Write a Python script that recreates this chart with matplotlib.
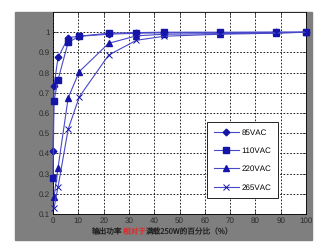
import matplotlib
matplotlib.use("Agg")
import matplotlib.pyplot as plt
from matplotlib.patches import Rectangle

plt.rcParams['font.family'] = ['Liberation Sans', 'DejaVu Sans']
plt.rcParams['text.hinting'] = 'none'
plt.rcParams['text.hinting_factor'] = 1

# load in % of full load (250W)
x85 = [0, 0.4, 2, 6, 10.4, 22, 33, 44, 66, 88, 100]
y85 = [0.41, 0.735, 0.875, 0.973, 0.98, 0.99, 0.995, 0.997, 0.998, 1.0, 1.0]
x110 = [0, 0.4, 2, 6, 10.4, 22, 33, 44, 66, 88, 100]
y110 = [0.28, 0.66, 0.765, 0.95, 0.98, 0.995, 0.998, 1.0, 1.0, 1.0, 1.0]
x220 = [0.4, 2, 6, 10.4, 22, 33, 44, 66, 88, 100]
y220 = [0.185, 0.33, 0.675, 0.805, 0.945, 0.982, 0.99, 0.993, 0.997, 1.0]
x265 = [0.4, 2, 6, 10.4, 22, 33, 44, 66, 88, 100]
y265 = [0.13, 0.235, 0.52, 0.68, 0.887, 0.96, 0.98, 0.99, 0.995, 1.0]

xticks = [0, 10, 20, 30, 40, 50, 60, 70, 80, 90, 100]
yticks = [0.1, 0.2, 0.3, 0.4, 0.5, 0.6, 0.7, 0.8, 0.9, 1.0]
ylabels = ['0.1', '0.2', '0.3', '0.4', '0.5', '0.6', '0.7', '0.8', '0.9', '1']

W, H = 330, 247
fig = plt.figure(figsize=(W / 100, H / 100), dpi=100)
fig.patch.set_facecolor('white')

# matlab style gray frame
fig.patches.append(Rectangle((15 / W, (H - 240) / H), (312 - 15) / W, (240 - 12) / H,
                             transform=fig.transFigure, color='#7f7f7f', zorder=-5))

ax = fig.add_axes([53 / W, (H - 214) / H, 253 / W, 202 / H])
ax.set_facecolor('white')

line_col = '#4848c8'
mk_col = '#1414a8'
ax.plot(x85, y85, color=line_col, lw=0.8, marker='D', ms=3.4, mfc=mk_col, mec=mk_col, label='85VAC', clip_on=False, zorder=3)
ax.plot(x110, y110, color=line_col, lw=0.8, marker='s', ms=4.2, mfc=mk_col, mec=mk_col, label='110VAC', clip_on=False, zorder=3)
ax.plot(x220, y220, color=line_col, lw=0.8, marker='^', ms=4.2, mfc=mk_col, mec=mk_col, label='220VAC', clip_on=False, zorder=3)
ax.plot(x265, y265, color=line_col, lw=0.8, marker='x', ms=4, mfc=mk_col, mec=mk_col, mew=0.7, label='265VAC', clip_on=False, zorder=3)

ax.set_xlim(0, 100)
ax.set_ylim(0.1, 1.1)
ax.set_xticks(xticks)
ax.set_xticklabels([str(t) for t in xticks])
ax.set_yticks(yticks)
ax.set_yticklabels(ylabels)
ax.tick_params(direction='in', length=3, width=0.5, labelsize=6, pad=2, colors='#2a2a2a',
               top=True, right=True)
ax.grid(True, color='black', linestyle=(0, (2, 2)), lw=0.6)
for s in ax.spines.values():
    s.set_linewidth(0.6)
    s.set_color('black')

leg = ax.legend(loc='upper left', bbox_to_anchor=(0.609, 0.455), borderaxespad=0,
                fontsize=6, handlelength=3.0, handletextpad=0.3, labelspacing=1.3,
                borderpad=0.8, fancybox=False, framealpha=1, edgecolor='black')
leg.get_frame().set_linewidth(0.6)

# x label in three pieces, the middle one red
cjk = ['Noto Sans CJK SC', 'DejaVu Sans']
fs = 5.5
parts = [('输出功率', '#202020'), ('相对于', '#e02828'), ('满载250W的百分比（%）', '#202020')]
renderer = fig.canvas.get_renderer()
xpos = 92
for txt, col in parts:
    t = fig.text(xpos / W, (H - 232) / H, txt, color=col, fontsize=fs, va='center', ha='left', family=cjk)
    xpos += t.get_window_extent(renderer).width

fig.savefig('out.png', dpi=100, facecolor='white')
